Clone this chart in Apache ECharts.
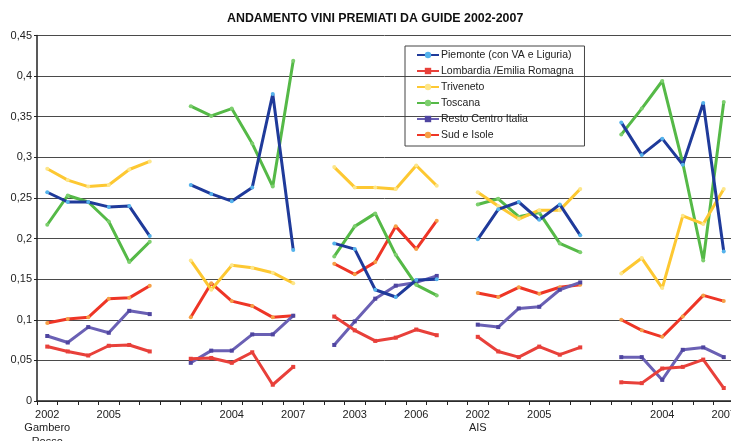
<!DOCTYPE html>
<html><head><meta charset="utf-8">
<script src="https://cdn.jsdelivr.net/npm/echarts@6/dist/echarts.min.js"></script>
<style>html,body{margin:0;padding:0;background:#fff}#c{width:731px;height:441px}</style>
</head><body><div id="c"></div>
<script>
const years = ['2002','2003','2004','2005','2006','2007'];
const guideNames = ['Gambero\nRosso', '', '', 'AIS', ''];
const yTicks = [0, 0.05, 0.1, 0.15, 0.2, 0.25, 0.3, 0.35, 0.4, 0.45];

const seriesNames = ['Piemonte (con VA e Liguria)', 'Lombardia /Emilia Romagna', 'Triveneto', 'Toscana', 'Resto Centro Italia', 'Sud e Isole'];

// values per guide (5 guides x 6 years)
const piemonte = [
  [0.257, 0.245, 0.245, 0.239, 0.240, 0.203],
  [0.266, 0.255, 0.246, 0.263, 0.378, 0.186],
  [0.194, 0.187, 0.137, 0.128, 0.149, 0.150],
  [0.199, 0.236, 0.245, 0.223, 0.242, 0.204],
  [0.343, 0.303, 0.323, 0.291, 0.367, 0.184]
];
const lombardia = [
  [0.067, 0.061, 0.056, 0.068, 0.069, 0.061],
  [0.052, 0.053, 0.047, 0.060, 0.020, 0.042],
  [0.104, 0.087, 0.074, 0.078, 0.088, 0.081],
  [0.079, 0.061, 0.054, 0.067, 0.057, 0.066],
  [0.023, 0.022, 0.040, 0.042, 0.051, 0.016]
];
const triveneto = [
  [0.286, 0.272, 0.264, 0.266, 0.285, 0.295],
  [0.173, 0.137, 0.167, 0.164, 0.158, 0.145],
  [0.288, 0.263, 0.263, 0.261, 0.290, 0.265],
  [0.257, 0.240, 0.224, 0.235, 0.235, 0.261],
  [0.157, 0.176, 0.139, 0.228, 0.218, 0.261]
];
const toscana = [
  [0.217, 0.253, 0.245, 0.221, 0.171, 0.196],
  [0.363, 0.351, 0.360, 0.317, 0.264, 0.419],
  [0.178, 0.215, 0.231, 0.180, 0.143, 0.130],
  [0.242, 0.249, 0.227, 0.232, 0.194, 0.183],
  [0.328, 0.360, 0.394, 0.293, 0.173, 0.368]
];
const restoCentro = [
  [0.080, 0.072, 0.091, 0.084, 0.111, 0.107],
  [0.047, 0.062, 0.062, 0.082, 0.082, 0.105],
  [0.069, 0.098, 0.126, 0.142, 0.146, 0.154],
  [0.094, 0.091, 0.114, 0.116, 0.137, 0.146],
  [0.054, 0.054, 0.026, 0.063, 0.066, 0.054]
];
const sudIsole = [
  [0.096, 0.101, 0.103, 0.126, 0.127, 0.142],
  [0.103, 0.145, 0.123, 0.117, 0.103, 0.105],
  [0.169, 0.156, 0.171, 0.215, 0.187, 0.222],
  [0.133, 0.128, 0.140, 0.132, 0.140, 0.143],
  [0.100, 0.087, 0.079, 0.104, 0.130, 0.123]
];

// build categories with an empty gap slot between guides
const categories = [];
guideNames.forEach((g, gi) => {
  years.forEach(y => categories.push(y === '2002' && g ? y + '\n' + g : y));
  if (gi < guideNames.length - 1) categories.push('');
});
function flat(groups) {
  const out = [];
  groups.forEach((arr, gi) => {
    arr.forEach(v => out.push(v));
    if (gi < groups.length - 1) out.push(null);
  });
  return out;
}
const allData = [piemonte, lombardia, triveneto, toscana, restoCentro, sudIsole];
const lineColors = ['#1f3a9a', '#e8403a', '#fdc832', '#55b947', '#6a60b4', '#ee3526'];
const markColors = ['#55b3ec', '#e8403a', '#fde68a', '#7dcf6e', '#4f45a0', '#f6a046'];
const markers = ['circle', 'rect', 'circle', 'circle', 'rect', 'circle'];

const chart = echarts.init(document.getElementById('c'));
chart.setOption({
  animation: false,
  title: {
    text: 'ANDAMENTO VINI PREMIATI DA GUIDE 2002-2007',
    left: 227, top: 12.5, padding: 0,
    textStyle: {fontFamily: 'Liberation Sans, Arial', fontSize: 12.4, fontWeight: 'bold', color: '#111'}
  },
  legend: {
    orient: 'vertical', left: 405, top: 46,
    padding: [3, 11, 5, 11],
    borderColor: '#444', borderWidth: 1,
    itemWidth: 22, itemHeight: 8, itemGap: 4,
    textStyle: {fontFamily: 'Liberation Sans, Arial', fontSize: 10.5, lineHeight: 12, color: '#222', padding: [0, 0, 0, -3]},
    data: seriesNames
  },
  grid: {left: 37, top: 35.5, width: 697, bottom: 40, outerBoundsMode: 'none', containLabel: false},
  xAxis: {
    type: 'category', data: categories, boundaryGap: true,
    axisLine: {lineStyle: {color: '#222', width: 1.5}},
    axisTick: {show: true, interval: 0, length: 4, lineStyle: {color: '#222'}},
    axisLabel: {interval: 2, margin: 7, fontFamily: 'Liberation Sans, Arial', fontSize: 11, color: '#222', lineHeight: 13.5}
  },
  yAxis: {
    type: 'value', min: 0, max: 0.45, interval: 0.05,
    axisLine: {show: true, lineStyle: {color: '#222', width: 1.5}},
    axisTick: {show: true, length: 3, lineStyle: {color: '#222'}},
    axisLabel: {margin: 5, fontFamily: 'Liberation Sans, Arial', fontSize: 11, color: '#222',
      formatter: v => { const t = yTicks.find(x => Math.abs(x - v) < 1e-9); return (t === undefined ? v : t).toString().replace('.', ','); }},
    splitLine: {lineStyle: {color: '#4a4a4a', width: 1}}
  },
  series: allData.map((d, i) => ({
    name: seriesNames[i], type: 'line', data: flat(d), connectNulls: false,
    symbol: markers[i], symbolSize: 4, showSymbol: true,
    lineStyle: {color: lineColors[i], width: 3},
    itemStyle: {color: markColors[i], borderWidth: 0},
    z: 10 - i
  }))
});
</script></body></html>
